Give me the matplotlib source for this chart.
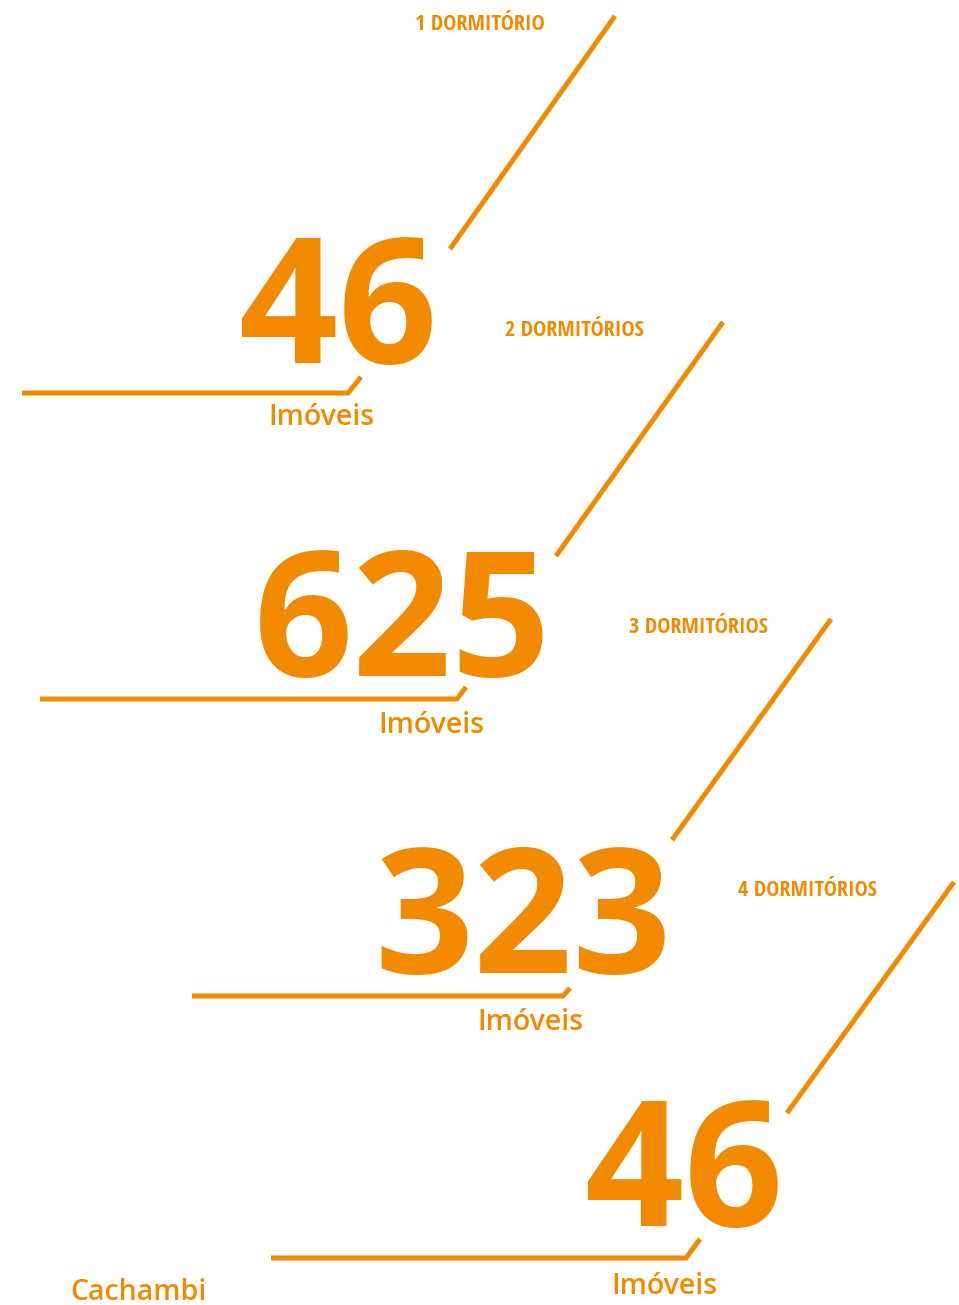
import matplotlib
matplotlib.use("Agg")
import matplotlib.pyplot as plt
from matplotlib import font_manager as fm

# ---- data ----
categories = ["1 DORMITÓRIO", "2 DORMITÓRIOS", "3 DORMITÓRIOS", "4 DORMITÓRIOS"]
values = [46, 625, 323, 46]
unit_label = "Imóveis"
neighborhood = "Cachambi"

ORANGE = "#F28A00"

def pick(names):
    avail = {f.name for f in fm.fontManager.ttflist}
    for n in names:
        if n in avail:
            return n
    return "DejaVu Sans"

narrow = pick(["Open Sans Condensed", "PT Sans Narrow", "Liberation Sans Narrow", "DejaVu Sans"])
main = pick(["Open Sans", "Noto Sans", "DejaVu Sans"])

W, H = 959, 1305
fig = plt.figure(figsize=(W / 100, H / 100), dpi=100)
ax = fig.add_axes([0, 0, 1, 1])
ax.set_xlim(0, W)
ax.set_ylim(H, 0)
ax.axis("off")

# layout per block (pixel positions)
label_pos = [(480, 30), (574, 336), (698, 633), (807, 896)]
diag = [((615, 16), (450, 249)), ((723, 322), (556, 556)),
        ((831, 619), (672, 840)), ((954, 882), (787, 1113))]
num_pos = [(338, 363), (403, 676), (523, 973), (684, 1226)]
base = [((22, 393), (348, 393), (361, 377)),
        ((40, 699), (457, 699), (466, 687)),
        ((192, 996), (563, 996), (570, 988)),
        ((271, 1258), (686, 1258), (700, 1239))]
unit_pos = [(321, 425), (431, 733), (530, 1030), (664, 1294)]

lw = 3.6
for i, (cat, val) in enumerate(zip(categories, values)):
    lx, ly = label_pos[i]
    ax.text(lx, ly, cat, ha="center", va="baseline", color=ORANGE,
            fontsize=16, fontweight="bold", family=narrow)
    (x0, y0), (x1, y1) = diag[i]
    ax.plot([x0, x1], [y0, y1], color=ORANGE, lw=lw, solid_capstyle="butt")
    nx, ny = num_pos[i]
    ax.text(nx, ny, str(val), ha="center", va="baseline", color=ORANGE,
            fontsize=125, fontweight="bold", family=main)
    pts = base[i]
    ax.plot([p[0] for p in pts], [p[1] for p in pts], color=ORANGE, lw=lw,
            solid_capstyle="butt", solid_joinstyle="miter")
    ux, uy = unit_pos[i]
    ax.text(ux, uy, unit_label, ha="center", va="baseline", color=ORANGE,
            fontsize=20.5, fontweight="semibold", family=main)

ax.text(138, 1300, neighborhood, ha="center", va="baseline", color=ORANGE,
        fontsize=20.5, fontweight="semibold", family=main)

fig.savefig("out.png", dpi=100, facecolor="white")
